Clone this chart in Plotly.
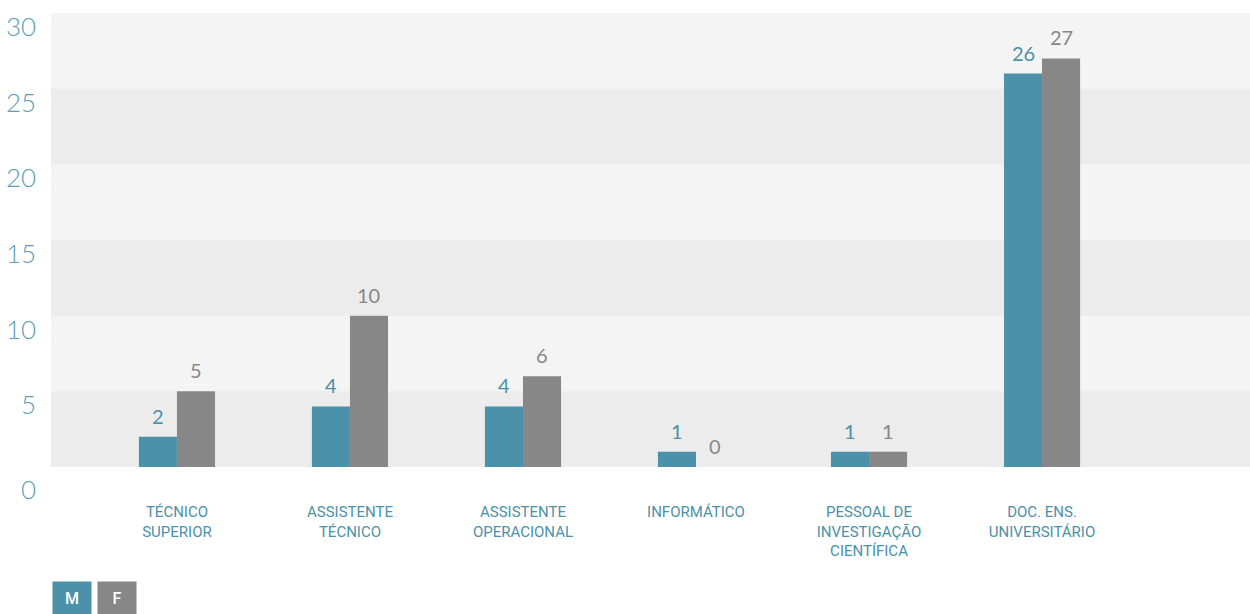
import plotly.graph_objects as go

categories = ["TÉCNICO<br>SUPERIOR", "ASSISTENTE<br>TÉCNICO", "ASSISTENTE<br>OPERACIONAL",
              "INFORMÁTICO", "PESSOAL DE<br>INVESTIGAÇÃO<br>CIENTÍFICA", "DOC. ENS.<br>UNIVERSITÁRIO"]
male = [2, 4, 4, 1, 1, 26]
female = [5, 10, 6, 0, 1, 27]
y_ticks = [0, 5, 10, 15, 20, 25, 30]

TEAL = "#4a91a9"
GRAY = "#878787"
TICK_COLOR = "#5c9eb6"

fig = go.Figure()
fig.add_trace(go.Bar(x=categories, y=male, name="M", marker=dict(color=TEAL, line=dict(width=0))))
fig.add_trace(go.Bar(x=categories, y=female, name="F", marker=dict(color=GRAY, line=dict(width=0))))

# alternating horizontal bands
shapes = []
for lo in y_ticks[:-1]:
    if lo % 10 == 0:
        shapes.append(dict(type="rect", xref="paper", yref="y", x0=0, x1=1, y0=lo, y1=lo + 5,
                           fillcolor="#ececec", line=dict(width=0), layer="below"))

annotations = []
# value labels above each bar
for i, cat in enumerate(categories):
    for vals, color, shift in ((male, TEAL, -0.5), (female, GRAY, 0.5)):
        annotations.append(dict(x=cat, y=vals[i], xref="x", yref="y", text=str(vals[i]),
                                showarrow=False, yanchor="bottom", yshift=7,
                                xshift=shift * 38,
                                font=dict(family="Lato", size=20, color=color)))

# y-axis labels sit a little below their gridlines
for t in y_ticks:
    annotations.append(dict(x=0, y=t, xref="paper", yref="y", text=str(t), showarrow=False,
                            xanchor="right", yanchor="middle", xshift=-13,
                            yshift=-22 if t == 0 else -13,
                            font=dict(family="Lato", size=26, color=TICK_COLOR, weight=300)))

# legend boxes
for k, (lbl, col) in enumerate((("M", TEAL), ("F", GRAY))):
    annotations.append(dict(x=0, y=0, xref="paper", yref="paper", text=lbl,
                            showarrow=False, xanchor="left", yanchor="top",
                            xshift=1 + k * 45, yshift=-114, width=38, height=33,
                            bgcolor=col, borderpad=0, align="center", valign="middle",
                            font=dict(family="Roboto", size=16, color="white", weight=500)))

fig.update_layout(
    width=1250, height=614,
    margin=dict(l=51, r=0, t=13, b=147),
    paper_bgcolor="white", plot_bgcolor="#f4f4f4",
    barmode="group", bargap=0.56, bargroupgap=0,
    showlegend=False,
    shapes=shapes, annotations=annotations,
    xaxis=dict(range=[-0.728, 6.202], showgrid=False, zeroline=False, showline=False,
               ticks="", ticklabelstandoff=34,
               tickfont=dict(family="Roboto", size=15, color=TEAL)),
    yaxis=dict(range=[0, 30], showgrid=False, zeroline=False, showline=False,
               showticklabels=False, ticks=""),
)

fig.write_html("out.html")
